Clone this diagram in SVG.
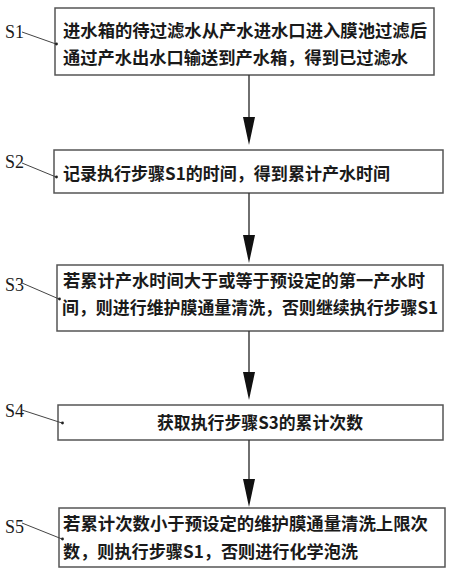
<svg xmlns="http://www.w3.org/2000/svg" width="450" height="577" viewBox="0 0 450 577">
<style>
.box{fill:#fff;stroke:#555;stroke-width:1.5}
.t{font-family:"Noto Sans CJK SC","Noto Sans CJK JP",sans-serif;font-size:17.5px;font-weight:bold;fill:#1a1a1a}
.lbl{font-family:"Liberation Serif",serif;font-size:18px;fill:#1a1a1a}
.lead{stroke:#444;stroke-width:1;fill:none}
.dot{fill:#222}
.conn{stroke:#333;stroke-width:1.4;fill:none}
.head{fill:#111}
</style>
<rect width="450" height="577" fill="#fff"/>
<g id="n1">
<rect class="box" x="55" y="8" width="379" height="67"/>
<text class="t" x="63" y="36.5" textLength="364" lengthAdjust="spacingAndGlyphs">进水箱的待过滤水从产水进水口进入膜池过滤后</text>
<text class="t" x="63" y="64" textLength="345" lengthAdjust="spacingAndGlyphs">通过产水出水口输送到产水箱，得到已过滤水</text>
<text class="lbl" x="5" y="38">S1</text>
<line class="lead" x1="22" y1="32" x2="56" y2="44"/>
<circle class="dot" cx="56.5" cy="44" r="1.4"/>
</g>
<g id="n2">
<rect class="box" x="54" y="150" width="389" height="43"/>
<text class="t" x="63" y="180" textLength="327" lengthAdjust="spacingAndGlyphs">记录执行步骤S1的时间，得到累计产水时间</text>
<text class="lbl" x="5" y="168">S2</text>
<line class="lead" x1="22" y1="163" x2="56" y2="177"/>
<circle class="dot" cx="56.5" cy="177" r="1.4"/>
</g>
<g id="n3">
<rect class="box" x="57" y="265" width="386" height="66"/>
<text class="t" x="63" y="287" textLength="362" lengthAdjust="spacingAndGlyphs">若累计产水时间大于或等于预设定的第一产水时</text>
<text class="t" x="62" y="314" textLength="376" lengthAdjust="spacingAndGlyphs">间，则进行维护膜通量清洗，否则继续执行步骤S1</text>
<text class="lbl" x="5" y="291">S3</text>
<line class="lead" x1="22" y1="283" x2="59" y2="299"/>
<circle class="dot" cx="59.5" cy="299" r="1.4"/>
</g>
<g id="n4">
<rect class="box" x="58" y="405" width="385" height="35"/>
<text class="t" x="157" y="429" textLength="206" lengthAdjust="spacingAndGlyphs">获取执行步骤S3的累计次数</text>
<text class="lbl" x="5" y="417">S4</text>
<line class="lead" x1="22" y1="410" x2="62" y2="423"/>
<circle class="dot" cx="62.5" cy="423" r="1.4"/>
</g>
<g id="n5">
<rect class="box" x="59" y="508" width="386" height="59"/>
<text class="t" x="63" y="530" textLength="365" lengthAdjust="spacingAndGlyphs">若累计次数小于预设定的维护膜通量清洗上限次</text>
<text class="t" x="63" y="558" textLength="295" lengthAdjust="spacingAndGlyphs">数，则执行步骤S1，否则进行化学泡洗</text>
<text class="lbl" x="5" y="533">S5</text>
<line class="lead" x1="22" y1="523" x2="62" y2="539"/>
<circle class="dot" cx="62.5" cy="539" r="1.4"/>
</g>
<g id="connectors">
<line class="conn" x1="249" y1="75" x2="249" y2="120"/>
<polygon class="head" points="243,117 255,117 249,145"/>
<line class="conn" x1="249" y1="193" x2="249" y2="238"/>
<polygon class="head" points="243,235 255,235 249,263"/>
<line class="conn" x1="249" y1="331" x2="249" y2="375"/>
<polygon class="head" points="243,372 255,372 249,400"/>
<line class="conn" x1="249" y1="440" x2="249" y2="482"/>
<polygon class="head" points="243,479 255,479 249,507"/>
</g>
</svg>
